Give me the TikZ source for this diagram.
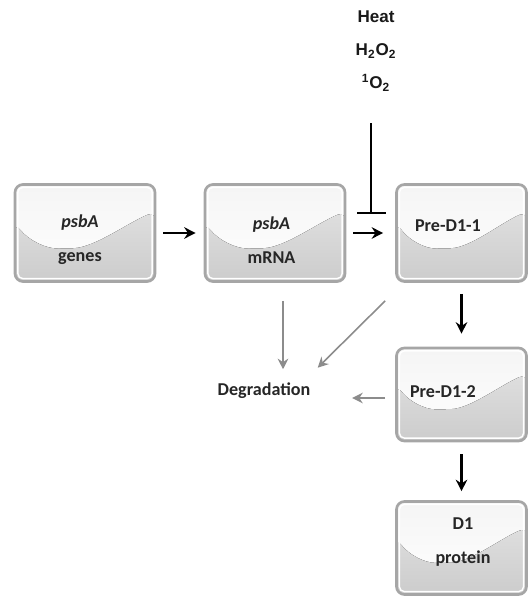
\documentclass[tikz,border=0pt]{standalone}
\usepackage{fontspec}
\setmainfont{Carlito}
\newfontfamily\arialfont{Liberation Sans}
\usepackage{tikz}
\usetikzlibrary{arrows.meta, positioning, calc}
\tikzset{
    box_gray/.style={
        rectangle, rounded corners=4.5pt, draw=black!35, line width=1.5pt,
        top color=black!4, bottom color=white,
        minimum width=2.8cm, minimum height=1.94cm, inner sep=0pt,
        path picture={
            \fill[top color=black!10, middle color=black!27, bottom color=black!20]
                let \p1=(path picture bounding box.south west),
                    \p2=(path picture bounding box.north east) in
                (\x1,\y1) -- (\x1,{\y1+0.6*(\y2-\y1)})
                .. controls ({\x1+0.1*(\x2-\x1)},{\y1+0.42*(\y2-\y1)}) and ({\x1+0.22*(\x2-\x1)},{\y1+0.34*(\y2-\y1)}) ..
                ({\x1+0.36*(\x2-\x1)},{\y1+0.34*(\y2-\y1)})
                .. controls ({\x1+0.57*(\x2-\x1)},{\y1+0.35*(\y2-\y1)}) and ({\x1+0.8*(\x2-\x1)},{\y1+0.6*(\y2-\y1)}) ..
                (\x2,{\y1+0.72*(\y2-\y1)}) -- (\x2,\y1) -- cycle;
            \draw[white, line width=0.8pt, rounded corners=3pt]
                ([shift={(1.6pt,1.6pt)}]path picture bounding box.south west) rectangle
                ([shift={(-1.6pt,-1.6pt)}]path picture bounding box.north east);
        }
    },
    box_txt/.style={
        font=\fontsize{10.3}{19.5}\selectfont\bfseries, text=black!85, align=center, inner sep=1pt
    },
    stress_lbl/.style={
        font=\arialfont\fontsize{9.7}{18.8}\selectfont\bfseries, text=black!90, align=center, inner sep=1pt
    },
    flow_arrow/.style={
        -{Stealth[length=6.5pt, width=6.5pt]}, line width=1.2pt, draw=black
    },
    decay_arrow/.style={
        -{Stealth[length=6pt, width=6pt]}, line width=0.9pt, draw=black!45
    },
    block_line/.style={
        -{Bar[width=16.5pt]}, line width=1.2pt, draw=black
    }
}

\begin{document}
\begin{tikzpicture}
    \useasboundingbox (0,0) rectangle (10.58,-11.96);

    % Top row (gene -> transcript -> precursor)
    \node[box_gray] (genes) at (1.7,-4.66) {};
    \node[box_gray] (mrna) at (5.5,-4.66) {};
    \node[box_gray, minimum width=2.6cm] (pre1) at (9.23,-4.66) {};

    % Right column (processing)
    \node[box_gray, minimum width=2.6cm, minimum height=1.86cm] (pre2) at (9.23,-7.89) {};
    \node[box_gray, minimum width=2.6cm, minimum height=1.86cm] (d1) at (9.23,-10.96) {};

    % Box texts
    \node[box_txt] (genesTxt) at ([shift={(-0.1,-0.14)}]genes.center) {\textit{psbA}\\genes};
    \node[box_txt] (mrnaTxt) at ([shift={(-0.07,-0.14)}]mrna.center) {\textit{psbA}\\mRNA};
    \node[box_txt] (pre1Txt) at ([shift={(-0.27,0.14)}]pre1.center) {Pre-D1-1};
    \node[box_txt] (pre2Txt) at ([shift={(-0.37,0.05)}]pre2.center) {Pre-D1-2};
    \node[box_txt] (d1Txt) at ([shift={(0.03,0.12)}]d1.center) {D1\\protein};

    % Stress factors and degradation
    \node[stress_lbl] (stress) at (7.52,-1.02) {Heat\\H\textsubscript{2}O\textsubscript{2}\\\textsuperscript{1}O\textsubscript{2}};
    \node[box_txt, inner sep=2pt] (degr) at (5.28,-7.82) {Degradation};
    \coordinate (blk) at (7.42,-4.28);

    % Main pathway
    \draw[flow_arrow, shorten <=0.14cm, shorten >=0.16cm] (genes.east) -- (genes.east -| mrna.west);
    \draw[flow_arrow, shorten <=0.14cm, shorten >=0.24cm] (mrna.east) -- (mrna.east -| pre1.west);
    \draw[flow_arrow, shorten <=0.22cm, shorten >=0.26cm] (pre1.south) -- (pre2.north);
    \draw[flow_arrow, shorten <=0.24cm, shorten >=0.18cm] (pre2.south) -- (d1.north);

    % Inhibition by stress
    \draw[block_line, shorten <=0.6cm] (stress.south -| blk) -- (blk);

    % Degradation routes
    \draw[decay_arrow, shorten <=0.36cm, shorten >=0.2cm] ([xshift=0.16cm]mrna.south) -- ([xshift=0.16cm]mrna.south |- degr.north);
    \draw[decay_arrow] ([shift={(-0.2,-0.36)}]pre1.south west) -- ([shift={(0.07,0.23)}]degr.north east);
    \draw[decay_arrow, shorten <=0.2cm, shorten >=0.76cm] ([yshift=-0.07cm]pre2.west) -- ([yshift=-0.07cm]pre2.west -| degr.east);
\end{tikzpicture}
\end{document}
